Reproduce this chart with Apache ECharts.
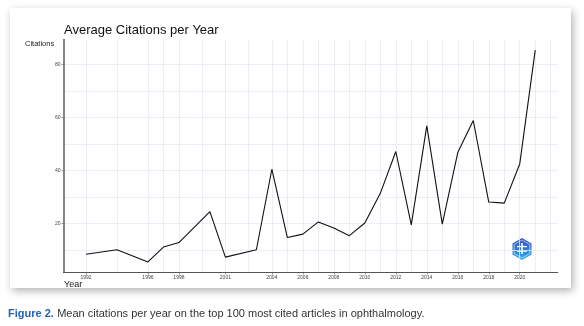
<!DOCTYPE html>
<html>
<head>
<meta charset="utf-8">
<script src="https://cdn.jsdelivr.net/npm/echarts@6/dist/echarts.min.js"></script>
<style>
  html, body { margin: 0; padding: 0; background: #ffffff; }
  #chart { width: 584px; height: 326px; }
</style>
</head>
<body>
<div id="chart"></div>
<script>
// Mean citations per publication year
const years = [1992, 1994, 1996, 1997, 1998, 2000, 2001, 2003, 2004, 2005, 2006, 2007, 2008, 2009,
               2010, 2011, 2012, 2013, 2014, 2015, 2016, 2017, 2018, 2019, 2020, 2021];
const citations = [8.4, 10.1, 5.5, 11.1, 12.8, 24.5, 7.3, 10.1, 40.5, 14.7, 16.0, 20.6, 18.3, 15.4,
                   20.2, 31.4, 47.2, 19.5, 56.9, 19.8, 46.8, 58.9, 28.1, 27.7, 42.5, 85.5];

// Axis breaks
const xTickYears = [1992, 1996, 1998, 2001, 2004, 2006, 2008, 2010, 2012, 2014, 2016, 2018, 2020];
const xMinorYears = [1994, 1997, 1999.5, 2002.5, 2005, 2007, 2009, 2011, 2013, 2015, 2017, 2019, 2021, 2022];
const yTicks = [20, 40, 60, 80];
const yMinor = [10, 30, 50, 70];

const xMin = 1990.55, xMax = 2022.45;
const yMin = 1.5, yMax = 89.5;

const gridColor = '#e6eaf2';

const chart = echarts.init(document.getElementById('chart'), null, { renderer: 'canvas' });

const gridLineData = []
  .concat(xTickYears.concat(xMinorYears).map(v => ({ xAxis: v })))
  .concat(yTicks.concat(yMinor).map(v => ({ yAxis: v })));

// Hexagon badge
const hex = [];
for (let i = 0; i < 6; i++) {
  const a = Math.PI / 180 * (60 * i - 90);
  hex.push([Math.cos(a) * 11, Math.sin(a) * 11]);
}

chart.setOption({
  animation: false,
  backgroundColor: '#ffffff',
  graphic: [
    {
      type: 'rect', z: -10, silent: true,
      shape: { x: 10, y: 8, width: 561, height: 280 },
      style: { fill: '#ffffff', shadowBlur: 8, shadowColor: 'rgba(0,0,0,0.3)', shadowOffsetX: 2, shadowOffsetY: 3 }
    },
    {
      type: 'text', left: 64, top: 23.5,
      style: { text: 'Average Citations per Year', font: '13px "Liberation Sans", Arial, sans-serif', fill: '#111111' }
    },
    {
      type: 'text', left: 25, top: 39.5,
      style: { text: 'Citations', font: '7.5px "Liberation Sans", Arial, sans-serif', fill: '#222222' }
    },
    {
      type: 'text', left: 64, top: 280,
      style: { text: 'Year', font: '9px "Liberation Sans", Arial, sans-serif', fill: '#222222' }
    },
    {
      type: 'text', left: 8, top: 308,
      style: {
        text: '{b|Figure 2.} {n|Mean citations per year on the top 100 most cited articles in ophthalmology.}',
        rich: {
          b: { font: 'bold 11px "Liberation Sans", Arial, sans-serif', fill: '#1f63b8' },
          n: { font: '11px "Liberation Sans", Arial, sans-serif', fill: '#333333' }
        }
      }
    },
    {
      type: 'group', x: 522, y: 249, silent: true,
      children: [
        {
          type: 'polygon', shape: { points: hex },
          style: {
            fill: new echarts.graphic.LinearGradient(0, 0, 0, 1, [
              { offset: 0, color: '#3b4fb8' }, { offset: 0.55, color: '#2f7fd6' }, { offset: 1, color: '#29b6f0' }
            ])
          }
        },
        { type: 'polygon', shape: { points: hex.map(p => [p[0] * 0.82, p[1] * 0.82]) },
          style: { fill: 'none', stroke: 'rgba(255,255,255,0.7)', lineWidth: 0.8 } },
        { type: 'rect', shape: { x: -5, y: -3, width: 10, height: 1.2 }, style: { fill: '#ffffff' } },
        { type: 'rect', shape: { x: -0.8, y: -6, width: 1.6, height: 11 }, style: { fill: '#ffffff' } },
        { type: 'rect', shape: { x: -5, y: 2, width: 10, height: 1 }, style: { fill: 'rgba(255,255,255,0.8)' } }
      ]
    }
  ],
  grid: { left: 63.5, right: 26.3, top: 39.5, bottom: 53.5 },
  xAxis: {
    type: 'value', min: xMin, max: xMax,
    axisLine: { show: true, onZero: false, lineStyle: { color: '#555555', width: 1.2 } },
    axisTick: { show: true, customValues: xTickYears, length: 2, lineStyle: { color: '#555555', width: 0.6 } },
    axisLabel: {
      customValues: xTickYears, fontSize: 5, color: '#444444', margin: 3,
      fontFamily: '"Liberation Sans", Arial, sans-serif', formatter: v => String(Math.round(v))
    },
    splitLine: { show: false }
  },
  yAxis: {
    type: 'value', min: yMin, max: yMax,
    axisLine: { show: true, onZero: false, lineStyle: { color: '#666666', width: 1.6 } },
    axisTick: { show: true, customValues: yTicks, length: 2, lineStyle: { color: '#555555', width: 0.6 } },
    axisLabel: {
      customValues: yTicks, fontSize: 5, color: '#444444', margin: 3,
      fontFamily: '"Liberation Sans", Arial, sans-serif'
    },
    splitLine: { show: false }
  },
  series: [
    {
      type: 'line', silent: true, z: 0,
      data: [],
      markLine: {
        z: 0, silent: true, symbol: 'none', animation: false,
        label: { show: false },
        lineStyle: { color: gridColor, width: 0.8, type: 'solid' },
        data: gridLineData
      }
    },
    {
      type: 'line', z: 3,
      data: years.map((y, i) => [y, citations[i]]),
      showSymbol: false, symbol: 'none',
      lineStyle: { color: '#111111', width: 1.1 }
    }
  ]
});
</script>
</body>
</html>
